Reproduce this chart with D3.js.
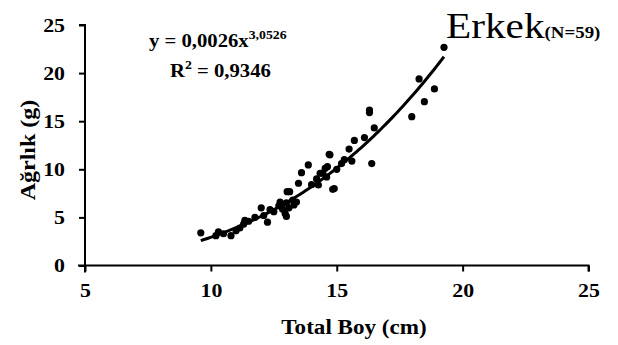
<!DOCTYPE html>
<html>
<head>
<meta charset="utf-8">
<script src="https://cdn.jsdelivr.net/npm/d3@7"></script>
<style>
  body { margin: 0; background: #fff; }
  svg { display: block; font-family: "Liberation Serif", "Times New Roman", serif; }
</style>
</head>
<body>
<svg></svg>
<script>
// Total Boy (cm) vs Ağırlık (g), males
let boy = [9.6, 10.2, 10.3, 10.5, 10.8, 11.0, 11.15, 11.3, 11.35, 11.5,
  11.75, 12.0, 12.1, 12.25, 12.35, 12.5, 12.7, 12.75, 12.85, 12.95,
  13.0, 13.0, 13.03, 13.1, 13.13, 13.25, 13.3, 13.4, 13.48, 13.6,
  13.87, 14.0, 14.2, 14.27, 14.34, 14.45, 14.54, 14.6, 14.63, 14.7,
  14.73, 14.84, 14.9, 15.0, 15.19, 15.3, 15.49, 15.6, 15.7, 16.1,
  16.3, 16.3, 16.39, 16.49, 17.98, 18.27, 18.48, 18.88, 19.26]
let agirlik = [3.4, 3.1, 3.5, 3.3, 3.1, 3.6, 3.9, 4.3, 4.7, 4.6,
  5.0, 6.0, 5.2, 4.5, 5.8, 5.6, 6.2, 6.6, 5.85, 5.4,
  5.1, 6.5, 7.67, 6.0, 7.67, 6.8, 6.3, 6.6, 8.55, 9.65,
  10.45, 8.4, 9.0, 8.37, 9.58, 9.6, 10.1, 9.2, 10.27, 11.56,
  11.5, 7.92, 8.0, 10.0, 10.6, 11.0, 12.1, 10.86, 13.0, 13.3,
  16.16, 15.9, 10.6, 14.3, 15.47, 19.39, 17.03, 18.35, 22.68]

let xTicks = [5, 10, 15, 20, 25]
let yTicks = [0, 5, 10, 15, 20, 25]

// power trendline y = a * x^b from the chart
let fitA = 0.0026
let fitB = 3.0526

let width = 618, height = 345
let svg = d3.select("svg").attr("width", width).attr("height", height)

let xScale = d3.scaleLinear().domain([5, 25]).range([85, 588.5])
let yScale = d3.scaleLinear().domain([0, 25]).range([265.5, 25])

// the source font is a wide bold Times, so stretch text sideways
let stretch = (sel, sx) => {
  sel.each(function () {
    let t = d3.select(this)
    let x = +t.attr("x") || 0, y = +t.attr("y") || 0
    t.attr("x", 0).attr("y", 0)
     .attr("transform", "translate(" + x + "," + y + ") scale(" + sx + ",1)")
  })
}

let xAxis = d3.axisBottom(xScale).tickValues(xTicks).tickSize(6).tickPadding(12)
let gx = svg.append("g")
  .attr("transform", "translate(0," + yScale(0) + ")")
  .call(xAxis)
gx.select(".domain").attr("d", "M" + (xScale(5) - 7) + ",0H" + xScale(25) + "V6")
  .attr("stroke", "#000").attr("stroke-width", 2)
gx.selectAll(".tick line").attr("stroke-width", 2)
gx.selectAll(".tick text")
  .style("font-family", "Liberation Serif").style("font-size", "19px")
  .style("font-weight", "bold").attr("fill", "#000")
stretch(gx.selectAll(".tick text"), 1.15)

let yAxis = d3.axisLeft(yScale).tickValues(yTicks).tickSize(6).tickPadding(14)
let gy = svg.append("g")
  .attr("transform", "translate(" + xScale(5) + ",0)")
  .call(yAxis)
gy.select(".domain").attr("d", "M-6," + yScale(25) + "H0V" + (yScale(0) + 7))
  .attr("stroke", "#000").attr("stroke-width", 2)
gy.selectAll(".tick line").attr("stroke-width", 2)
gy.selectAll(".tick text")
  .style("font-family", "Liberation Serif").style("font-size", "19px")
  .style("font-weight", "bold").attr("fill", "#000")
stretch(gy.selectAll(".tick text"), 1.15)

// trendline
let xMin = d3.min(boy), xMax = d3.max(boy)
let fitPts = d3.range(0, 101).map(i => {
  let x = xMin + (xMax - xMin) * i / 100
  return [x, fitA * Math.pow(x, fitB)]
})
svg.append("path")
  .datum(fitPts)
  .attr("fill", "none")
  .attr("stroke", "#000")
  .attr("stroke-width", 3)
  .attr("d", d3.line().x(d => xScale(d[0])).y(d => yScale(d[1])))

// points
svg.selectAll("circle")
  .data(boy)
  .enter()
  .append("circle")
  .attr("cx", d => xScale(d))
  .attr("cy", (d, i) => yScale(agirlik[i]))
  .attr("r", 3.6)
  .attr("fill", "#000")

// axis titles
svg.append("text")
  .attr("transform", "translate(354,334) scale(1.1,1)")
  .attr("text-anchor", "middle")
  .style("font-size", "21px").style("font-weight", "bold")
  .text("Total Boy (cm)")
svg.append("text")
  .attr("transform", "translate(35,150) rotate(-90) scale(1.2,1)")
  .attr("text-anchor", "middle")
  .style("font-size", "20px").style("font-weight", "bold")
  .text("Ağrlık (g)")

// equation
let eq = svg.append("text").attr("transform", "translate(149,47) scale(1.15,1)")
  .style("font-size", "18px").style("font-weight", "bold")
eq.append("tspan").text("y = 0,0026x")
eq.append("tspan").attr("dy", -8).style("font-size", "12px").text("3,0526")
let r2 = svg.append("text").attr("transform", "translate(170,77) scale(1.15,1)")
  .style("font-size", "18px").style("font-weight", "bold")
r2.append("tspan").text("R")
r2.append("tspan").attr("dy", -8).style("font-size", "12px").text("2")
r2.append("tspan").attr("dy", 8).text(" = 0,9346")

// title
let title = svg.append("text").attr("transform", "translate(446,38) scale(1.18,1)")
title.append("tspan").style("font-size", "35px").text("Erkek")
title.append("tspan").style("font-size", "16px").style("font-weight", "bold").text("(N=59)")
</script>
</body>
</html>
